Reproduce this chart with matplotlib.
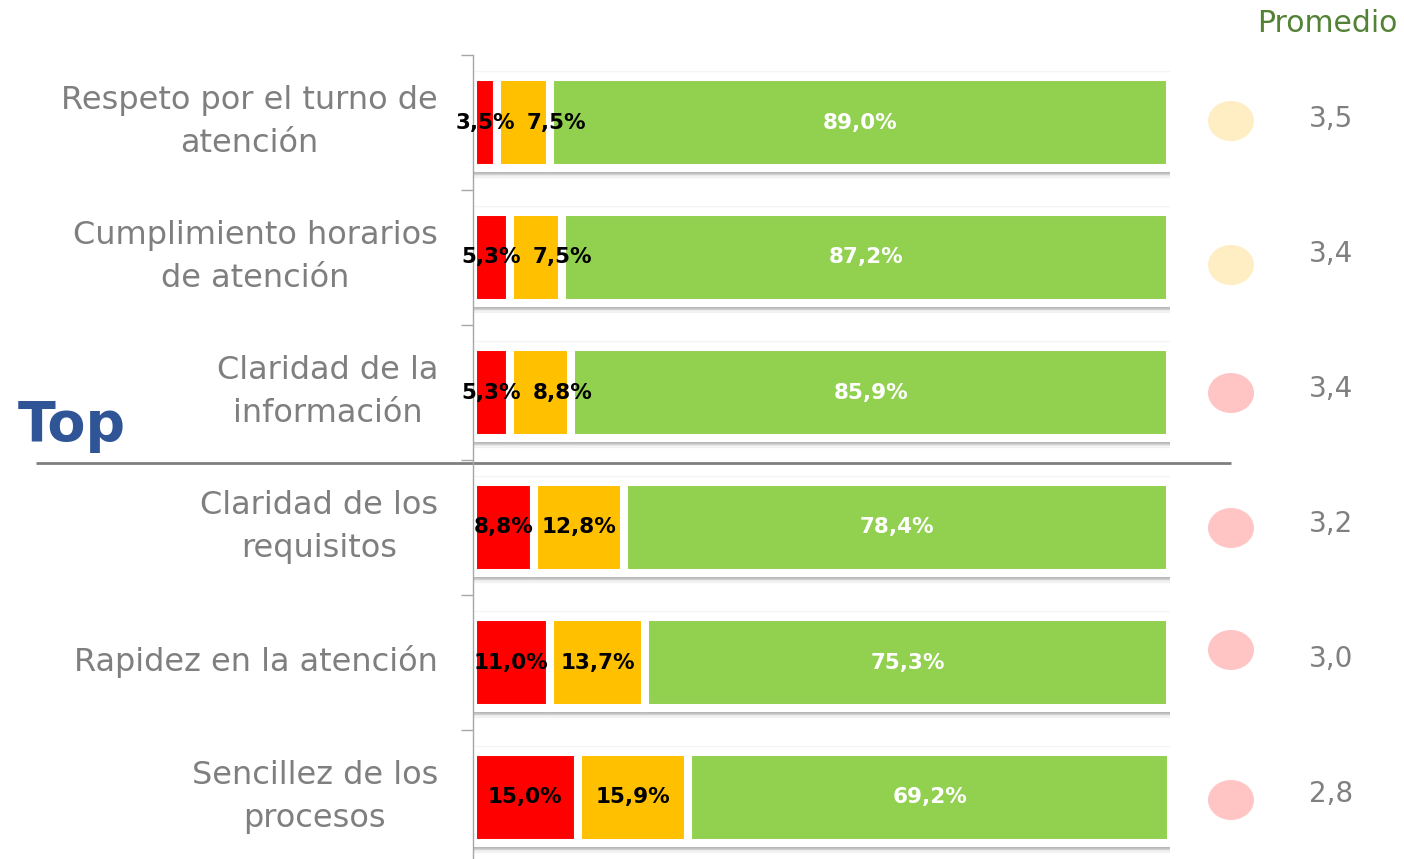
import matplotlib
matplotlib.use("Agg")
import matplotlib.pyplot as plt
from matplotlib.patches import Ellipse, Rectangle
import numpy as np

categories = [
    "Respeto por el turno de\natención",
    "Cumplimiento horarios\nde atención",
    "Claridad de la\ninformación",
    "Claridad de los\nrequisitos",
    "Rapidez en la atención",
    "Sencillez de los\nprocesos",
]
bajo = [3.5, 5.3, 5.3, 8.8, 11.0, 15.0]
medio = [7.5, 7.5, 8.8, 12.8, 13.7, 15.9]
alto = [89.0, 87.2, 85.9, 78.4, 75.3, 69.2]
promedio = [3.5, 3.4, 3.4, 3.2, 3.0, 2.8]
circle_colors = ["#FFEDC3", "#FFEDC3", "#FFC4C4", "#FFC4C4", "#FFC4C4", "#FFC4C4"]

RED, ORANGE, GREEN = "#FF0000", "#FFC000", "#92D050"
GREY_TXT = "#7F7F7F"

W, H = 1404, 859
fig = plt.figure(figsize=(W / 100, H / 100), dpi=100)

# overlay axes in pixel coordinates for decorations
ov = fig.add_axes([0, 0, 1, 1], zorder=0)
ov.set_xlim(0, W)
ov.set_ylim(H, 0)
ov.axis("off")

# main bar axes
ax = fig.add_axes([473 / W, 0, 697 / W, 1 - 55 / H], zorder=1)
ax.patch.set_alpha(0)
n = len(categories)
y = np.arange(n)

# background boxes and shadows
for i in y:
    ax.add_patch(Rectangle((0, i - 0.385), 100.4, 0.74, facecolor="#FDFDFD",
                           edgecolor="#F4F4F4", linewidth=0.8, zorder=0.5))
    for k, a in enumerate(np.linspace(0.55, 0.02, 7)):
        yy = i + 0.36 + k * 0.008
        ax.plot([0, 100.4], [yy, yy], color="#808080", alpha=a, lw=1.2,
                solid_capstyle="butt", zorder=0.6)

bar_h = 0.667
lw = 5.8
ax.barh(y, bajo, height=bar_h, color=RED, edgecolor="white", linewidth=lw, zorder=2)
ax.barh(y, medio, left=bajo, height=bar_h, color=ORANGE, edgecolor="white", linewidth=lw, zorder=2)
left3 = np.array(bajo) + np.array(medio)
ax.barh(y, alto, left=left3, height=bar_h, color=GREEN, edgecolor="white", linewidth=lw, zorder=2)

fmt = lambda v: f"{v:.1f}%".replace(".", ",")
lab_kw = dict(fontsize=15.5, fontweight="bold", ha="center", va="center", zorder=5)
for i in range(n):
    c1 = bajo[i] / 2
    c2 = bajo[i] + medio[i] / 2
    # keep the medium label clear of the low label when segments are narrow
    c2 = max(c2, c1 + 10.2)
    c3 = left3[i] + alto[i] / 2
    ax.text(c1, i, fmt(bajo[i]), color="black", **lab_kw)
    ax.text(c2, i, fmt(medio[i]), color="black", **lab_kw)
    ax.text(c3, i, fmt(alto[i]), color="white", **lab_kw)

ax.set_xlim(0, 100)
ax.set_ylim(n - 1 + (H - 55 - 67.5 - 135 * (n - 1)) / 135, -0.5)
ax.set_xticks([])
ax.set_yticks(y)
ax.set_yticklabels([])
ax.tick_params(axis="y", which="major", length=0)
ax.set_yticks(np.arange(n) - 0.5, minor=True)
ax.tick_params(axis="y", which="minor", length=8.5, width=1, color="#A6A6A6")
for s in ["top", "right", "bottom"]:
    ax.spines[s].set_visible(False)
ax.spines["left"].set_color("#A6A6A6")
ax.spines["left"].set_linewidth(1)

# category labels (right aligned, centred lines)
for i, cat in enumerate(categories):
    ov.text(438, 122 + 135 * i, cat, fontsize=23, color=GREY_TXT, ha="right",
            va="center", multialignment="center", linespacing=1.5)

# right side: circles and averages
circle_y = [121, 265, 393, 528, 650, 800]
for i, v in enumerate(promedio):
    ov.add_patch(Ellipse((1231, circle_y[i]), 46, 40, facecolor=circle_colors[i],
                         edgecolor="none"))
    ov.text(1331, 123 + 135 * i - 4, f"{v:.1f}".replace(".", ","), fontsize=20,
            color=GREY_TXT, ha="center", va="center")

ov.text(1398, 24, "Promedio", fontsize=21.5, color="#548235", ha="right", va="center")
ov.text(18, 426, "Top", fontsize=40, fontweight="bold", color="#2F5597",
        ha="left", va="center")
ov.plot([36, 1231], [463, 463], color="#7F7F7F", lw=2, solid_capstyle="butt")

fig.savefig("out.png", dpi=100)
